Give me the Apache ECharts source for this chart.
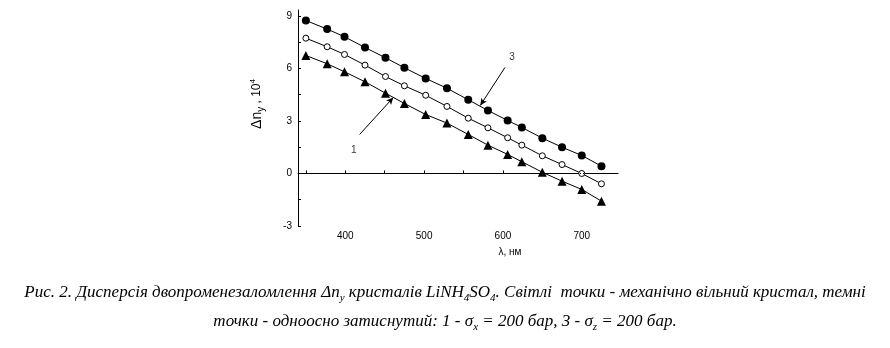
<!DOCTYPE html>
<html><head><meta charset="utf-8">
<script src="https://cdn.jsdelivr.net/npm/echarts@6/dist/echarts.min.js"></script>
<style>html,body{margin:0;padding:0;background:#fff}#c{width:890px;height:348px}</style>
</head><body><div id="c"></div>
<script>
const wavelengths = [350, 377, 399, 425, 451, 475, 502, 529, 556, 581, 606, 624, 650, 675, 700, 725];
const series1 = [6.74, 6.27, 5.81, 5.24, 4.59, 4.00, 3.37, 2.88, 2.23, 1.62, 1.09, 0.67, 0.07, -0.44, -0.91, -1.58];
const series2 = [7.73, 7.24, 6.80, 6.19, 5.54, 5.01, 4.47, 3.83, 3.16, 2.61, 2.04, 1.62, 1.01, 0.51, 0.00, -0.59];
const series3 = [8.74, 8.25, 7.81, 7.20, 6.61, 6.04, 5.43, 4.87, 4.21, 3.60, 3.03, 2.63, 2.02, 1.50, 1.03, 0.42];
const xLabels = [400, 500, 600, 700];
const xTicks = [350, 400, 450, 500, 550, 600, 650, 700];
const yLabels = [-3, 0, 3, 6, 9];
const yTicks = [-3, -1.5, 0, 1.5, 3, 4.5, 6, 7.5, 9];
const arrow3 = [[602.6, 6.06], [571.3, 3.89]];
const arrow1 = [[418.2, 2.23], [460.9, 4.34]];
const label3 = [611.4, 6.63];
const label1 = [410.7, 1.31];

const pair = (xs, ys) => xs.map((x, i) => [x, ys[i]]);
const chart = echarts.init(document.getElementById('c'));
const lab = { fontFamily: 'Liberation Sans', fontSize: 10, color: '#000' };
const serif = 'Liberation Serif';
const cap = { fontFamily: serif, fontStyle: 'italic', fontSize: 17, color: '#000' };
const sub = Object.assign({}, cap, { fontSize: 11, padding: [10, 0, 0, 0] });

chart.setOption({
  animation: false,
  grid: { left: 298, right: 272, top: 10, bottom: 122 },
  xAxis: {
    type: 'value', min: 340, max: 746,
    axisLine: { lineStyle: { color: '#000', width: 1 } },
    axisTick: { inside: true, length: 3, customValues: xTicks, lineStyle: { color: '#000' } },
    axisLabel: Object.assign({ customValues: xLabels, margin: 5 }, lab),
    splitLine: { show: false }
  },
  yAxis: {
    type: 'value', min: -3, max: 9.34,
    axisLine: { show: true, lineStyle: { color: '#000', width: 1 } },
    axisTick: { show: true, inside: true, length: 3, customValues: yTicks, lineStyle: { color: '#000' } },
    axisLabel: Object.assign({ customValues: yLabels, margin: 6 }, lab),
    splitLine: { show: false }
  },
  series: [
    {
      type: 'line', data: pair(wavelengths, series1), symbol: 'triangle', symbolSize: 9,
      lineStyle: { color: '#000', width: 1 }, itemStyle: { color: '#000' },
      markLine: {
        silent: true, symbol: ['none', 'none'], label: { show: false },
        lineStyle: { color: '#000', type: [1, 2], width: 1 },
        data: [{ yAxis: 0 }]
      }
    },
    {
      type: 'line', data: pair(wavelengths, series2), symbol: 'circle', symbolSize: 6,
      lineStyle: { color: '#000', width: 1 }, itemStyle: { color: '#fff', borderColor: '#000', borderWidth: 1 }
    },
    {
      type: 'line', data: pair(wavelengths, series3), symbol: 'circle', symbolSize: 8,
      lineStyle: { color: '#000', width: 1 }, itemStyle: { color: '#000' },
      markLine: {
        silent: true, symbol: ['none', 'arrow'], symbolSize: [5, 7], label: { show: false },
        lineStyle: { color: '#000', type: 'solid', width: 1 },
        data: [
          [{ coord: arrow3[0] }, { coord: arrow3[1] }],
          [{ coord: arrow1[0] }, { coord: arrow1[1] }]
        ]
      }
    },
    {
      type: 'scatter', symbolSize: 0, silent: true,
      data: [
        { value: label3, label: { show: true, formatter: '3', position: 'inside', fontFamily: 'Liberation Sans', fontSize: 10, color: '#000' } },
        { value: label1, label: { show: true, formatter: '1', position: 'inside', fontFamily: 'Liberation Sans', fontSize: 10, color: '#000' } }
      ]
    }
  ],
  graphic: [
    {
      type: 'text', x: 257, y: 104, rotation: Math.PI / 2,
      style: {
        text: '{a|Δn}{s|y}{b| , 10}{p|4}', align: 'center', verticalAlign: 'middle',
        rich: {
          a: { fontFamily: 'Liberation Sans', fontSize: 14, color: '#000' },
          b: { fontFamily: 'Liberation Sans', fontSize: 12, color: '#000' },
          s: { fontFamily: 'Liberation Sans', fontSize: 10, color: '#000', padding: [8, 0, 0, 0] },
          p: { fontFamily: 'Liberation Sans', fontSize: 8, color: '#000', padding: [0, 0, 8, 0] }
        }
      }
    },
    {
      type: 'text', x: 510, y: 252,
      style: { text: 'λ, нм', align: 'center', verticalAlign: 'middle', fontFamily: 'Liberation Sans', fontSize: 10, fill: '#000' }
    },
    {
      type: 'text', x: 445, y: 293,
      style: {
        text: '{c|Рис. 2. Дисперсія двопроменезаломлення Δn}{s|y}{c| кристалів LiNH}{s|4}{c|SO}{s|4}{c|. Світлі  точки - механічно вільний кристал, темні}',
        align: 'center', verticalAlign: 'middle', rich: { c: cap, s: sub }
      }
    },
    {
      type: 'text', x: 445, y: 322,
      style: {
        text: '{c|точки - одноосно затиснутий: 1 - σ}{s|x}{c| = 200 бар, 3 - σ}{s|z}{c| = 200 бар.}',
        align: 'center', verticalAlign: 'middle', rich: { c: cap, s: sub }
      }
    }
  ]
});
</script></body></html>
